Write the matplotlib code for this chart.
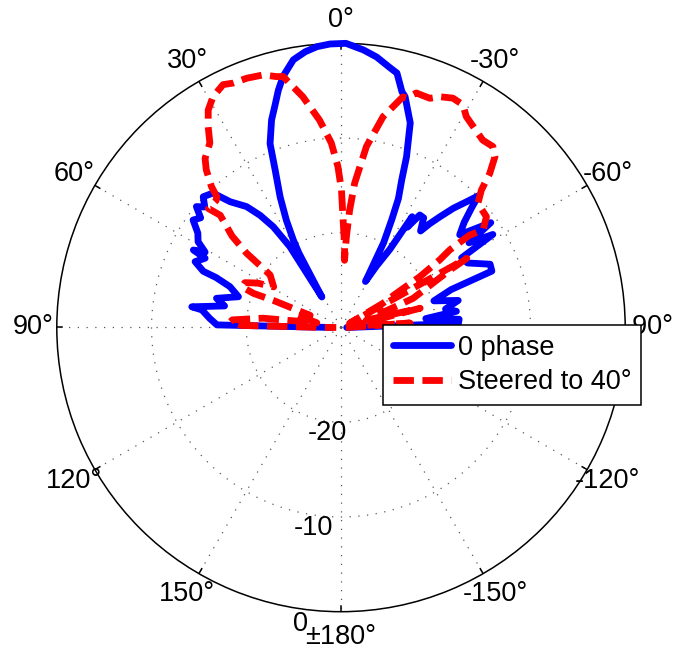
import numpy as np
import matplotlib
matplotlib.use("Agg")
import matplotlib.pyplot as plt

plt.rcParams["font.family"] = ["Liberation Sans", "DejaVu Sans"]

# Measured array patterns: angle in degrees (counter-clockwise from broadside), gain in dB
zero_phase_deg = [-90, -88, -86, -84, -82, -80, -77, -74, -71, -69.5,
                  -67, -63, -60, -58.5, -56.5, -55, -52, -49.5, -47.5, -46.2,
                  -45, -43.3, -41.8, -40.5, -39.5, -37, -35, -33.5, -32.7, -32,
                  -30, -28, -26.7, -25.2, -24, -22.4, -21, -18.7, -15.5, -14.5,
                  -12.4, -10.7, -7.5, -4.6, -1, 2.2, 4.9, 7.4, 10.1, 13,
                  14.8, 16.5, 18.5, 21.1, 22.7, 25, 27, 28.6, 29.5, 32.1,
                  32.3, 33.9, 35.8, 38, 41.4, 43.6, 46.5, 48.5, 50.1, 52,
                  54, 56.6, 59, 61, 62.3, 63, 65.7, 67.8, 68.2, 69.8,
                  73.3, 76.8, 79.5, 82.1, 82.8, 86, 88.8, 90]
zero_phase_db = [-29.4, -17.6, -17.5, -21.0, -17.7, -18.8, -17.3, -19.8, -17.7, -13.0,
                 -12.9, -15.0, -15.3, -11.2, -13.8, -10.7, -14.1, -12.9, -11.3, -9.9,
                 -11.2, -12.7, -14.3, -15.6, -16.8, -15.5, -15.5, -17.3, -16.1, -20.3,
                 -22.5, -24.5, -20.0, -17.4, -15.1, -13.2, -10.7, -7.2, -4.7, -4.3,
                 -2.5, -2.1, -1.2, -0.6, 0.0, -0.05, -0.25, -0.65, -1.3, -2.8,
                 -4.1, -5.5, -6.9, -9.2, -12.0, -14.8, -17.3, -19.5, -21.0, -26.2,
                 -19.9, -17.2, -15.4, -13.8, -12.3, -10.4, -9.95, -10.8, -10.1, -11.2,
                 -10.7, -11.9, -12.4, -13.6, -12.4, -13.9, -13.1, -14.3, -15.8, -17.5,
                 -18.7, -16.5, -17.5, -14.1, -15.2, -16.1, -16.9, -29.0]

steered_deg = [-90, -86.3, -83, -76.3, -73.7, -68, -62.2, -61.2, -64, -60,
               -58.3, -57.2, -55.6, -54.5, -54.3, -55.5, -52.7, -47.8, -45.6, -44,
               -42, -40, -37.1, -33.3, -30.7, -28.7, -26, -23.2, -21.2, -17.8,
               -15.9, -15, -11.3, -8, -5.4, -4.2, -3.4, -3, -2.6, -1,
               -0.2, 1.1, 3, 5.9, 9.4, 13, 14.4, 17.1, 20.7, 23.8,
               25.9, 29, 31.4, 33.5, 35.4, 38.8, 40.5, 42.6, 43.5, 44.5,
               48.1, 47.1, 50, 51.8, 52.9, 53.5, 58.9, 62, 65, 67.7,
               68.7, 68.2, 68.5, 74, 79, 83.2, 86, 87, 88.8, 89.5,
               90]
steered_db = [-29.5, -22.7, -28.8, -21.4, -27.2, -21.8, -17.0, -14.85, -29.0, -24.9,
              -23.1, -20.1, -17.4, -15.9, -13.3, -11.8, -10.7, -10.5, -9.25, -7.4,
              -5.7, -5.06, -5.2, -4.6, -4.1, -3.2, -3.06, -3.5, -4.05, -4.0,
              -4.8, -4.8, -7.3, -10.7, -14.7, -17.6, -20.4, -22.9, -21.5, -18.3,
              -15.5, -13.0, -10.5, -8.0, -5.3, -2.8, -2.66, -2.1, -1.87, -1.8,
              -1.5, -2.14, -3.1, -4.6, -6.1, -7.1, -8.1, -9.8, -10.95, -11.2,
              -11.2, -12.6, -15.0, -17.3, -19.9, -20.7, -21.7, -20.0, -18.8, -18.7,
              -20.1, -22.3, -26.5, -25.0, -27.4, -21.7, -18.5, -18.3, -19.5, -27.5,
              -29.5]

series_labels = ["0 phase", "Steered to 40°"]

angle_ticks = [0, 30, 60, 90, 120, 150, 180, -150, -120, -90, -60, -30]
angle_tick_labels = ["0°", "30°", "60°", "90°", "120°", "150°", "±180°",
                     "-150°", "-120°", "-90°", "-60°", "-30°"]
ring_values = [-20, -10, 0]
ring_label_angles = [183.1, 177.7, 173.6]
ring_label_offsets = [1.2, 1.2, 1.45]
db_floor = -30
r_max = 0 - db_floor

FS = 19.5

fig = plt.figure(figsize=(6.73, 6.50), dpi=100)
W, H = 673, 650
cx, cy, rad = 341.0, 327.5, 284.2
ax = fig.add_axes([(cx - rad) / W, (H - cy - rad) / H, 2 * rad / W, 2 * rad / H],
                  projection="polar")
ax.set_theta_zero_location("N")
ax.set_theta_direction(1)
ax.set_ylim(0, r_max)
ax.set_xticks([])
ax.set_yticks([])
ax.grid(False)
ax.spines["polar"].set_color("black")
ax.spines["polar"].set_linewidth(1.1)

dot_style = dict(color="0.35", lw=0.9, ls=(0, (1, 6)), zorder=1)

# dotted range rings
tt = np.linspace(0, 2 * np.pi, 721)
for v in ring_values[:-1]:
    ax.plot(tt, np.full_like(tt, v - db_floor), **dot_style)

# dotted spokes and short ticks on the outer circle
for a in angle_ticks:
    th = np.deg2rad(a)
    ax.plot([th, th], [0, r_max], **dot_style)
    ax.plot([th, th], [r_max - 0.6, r_max], color="black", lw=1.1, zorder=2)

# angle labels
for a, lab in zip(angle_ticks, angle_tick_labels):
    rr = r_max * (1.09 if abs(a) == 180 else 1.083)
    ax.text(np.deg2rad(a), rr, lab, ha="center", va="center",
            fontsize=FS, zorder=3)

# range labels
for v, a, off in zip(ring_values, ring_label_angles, ring_label_offsets):
    ax.text(np.deg2rad(a), v - db_floor + off, f"{v}", ha="right", va="center",
            fontsize=FS, zorder=3)

r_zero = np.clip(np.array(zero_phase_db) - db_floor, 0, None)
r_steer = np.clip(np.array(steered_db) - db_floor, 0, None)

ax.plot(np.deg2rad(zero_phase_deg), r_zero, color=(0, 0, 1), lw=4.9,
        solid_joinstyle="round", solid_capstyle="round",
        label=series_labels[0], zorder=4, clip_on=False)
ax.plot(np.deg2rad(steered_deg), r_steer, color=(1, 0, 0), lw=4.9,
        ls=(0, (3.0, 1.25)), dash_capstyle="butt", dash_joinstyle="round",
        label=series_labels[1], zorder=4, clip_on=False)

leg = ax.legend(loc="upper left", bbox_to_anchor=(383.3 / W, 1 - 325 / H),
                bbox_transform=fig.transFigure, borderaxespad=0,
                fontsize=FS, frameon=True, fancybox=False, framealpha=1,
                edgecolor="black", handlelength=2.15, handletextpad=0.25,
                borderpad=0.36, labelspacing=0.32)
leg.get_frame().set_linewidth(1.1)
leg.set_zorder(10)

fig.savefig("out.png", dpi=100, facecolor="white")
